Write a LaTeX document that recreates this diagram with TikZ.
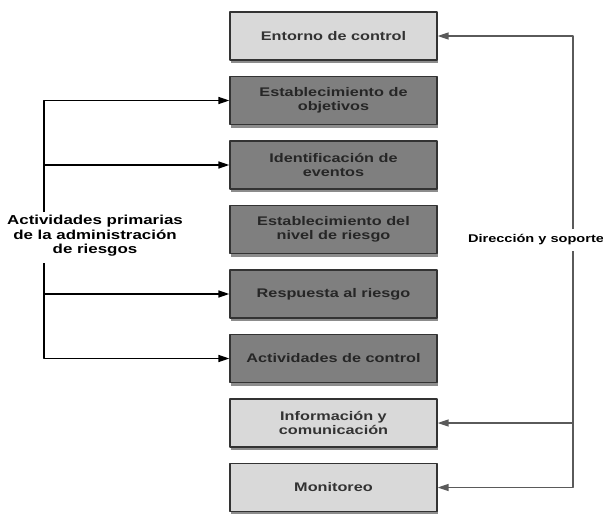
\documentclass[tikz,border=0pt]{standalone}
\usepackage{fontspec}
\setmainfont{Liberation Sans}
\newfontfamily\widefont[FakeStretch=1.3]{Liberation Sans}
\usetikzlibrary{arrows.meta,shadows}
\definecolor{lightbox}{HTML}{D9D9D9}
\definecolor{darkbox}{HTML}{7F7F7F}
\definecolor{boxtext}{HTML}{333333}
\definecolor{sideline}{HTML}{5A5A5A}
\tikzset{
  box/.style={draw=black!80, line width=1.3pt, minimum width=207pt, minimum height=48pt,
    align=center, text=boxtext, font=\widefont\bfseries\fontsize{12.5}{13.5}\selectfont,
    drop shadow={shadow xshift=1pt, shadow yshift=-3pt, opacity=0.45, fill=black}},
  lightbox/.style={box, fill=lightbox},
  darkbox/.style={box, fill=darkbox, text=black!85},
  sidelabel/.style={align=center, font=\widefont\bfseries\fontsize{13}{14.5}\selectfont},
  leftarrow/.style={line width=1.6pt, -{Triangle[length=11pt,width=7pt]}},
  rightarrow/.style={line width=1.4pt, draw=sideline, -{Triangle[length=11pt,width=7pt]}},
}
\begin{document}
\begin{tikzpicture}[x=1pt, y=-1pt, line join=round]
  \useasboundingbox (0,0) rectangle (603,514);
  % componentes
  \node[lightbox] (entorno) at (333.5,36) {Entorno de control};
  \node[darkbox] (objetivos) at (333.5,100.5) {Establecimiento de\\objetivos};
  \node[darkbox] (eventos) at (333.5,165) {Identificación de\\eventos};
  \node[darkbox] (nivel) at (333.5,229.5) {Establecimiento del\\nivel de riesgo};
  \node[darkbox] (respuesta) at (333.5,294) {Respuesta al riesgo};
  \node[darkbox] (actividades) at (333.5,358.5) {Actividades de control};
  \node[lightbox] (informacion) at (333.5,423) {Información y\\comunicación};
  \node[lightbox] (monitoreo) at (333.5,487.5) {Monitoreo};
  % etiquetas laterales
  \node[sidelabel] (primarias) at (95,236) {Actividades primarias\\de la administración\\de riesgos};
  \node[sidelabel, font=\widefont\bfseries\fontsize{11.2}{13}\selectfont] (direccion) at (536,240) {Dirección y soporte};
  \coordinate (la) at (44,212);
  \coordinate (lb) at (44,263);
  \coordinate (ra) at (573,229);
  \coordinate (rb) at (573,251);
  % actividades primarias
  \draw[leftarrow] (la) |- (objetivos.west);
  \draw[leftarrow] (la |- eventos) -- (eventos.west);
  \draw[leftarrow] (lb) |- (actividades.west);
  \draw[leftarrow] (lb |- respuesta) -- (respuesta.west);
  % direccion y soporte
  \draw[rightarrow] (ra) |- (entorno.east);
  \draw[rightarrow] (rb) |- (monitoreo.east);
  \draw[rightarrow] (rb |- informacion) -- (informacion.east);
\end{tikzpicture}
\end{document}
